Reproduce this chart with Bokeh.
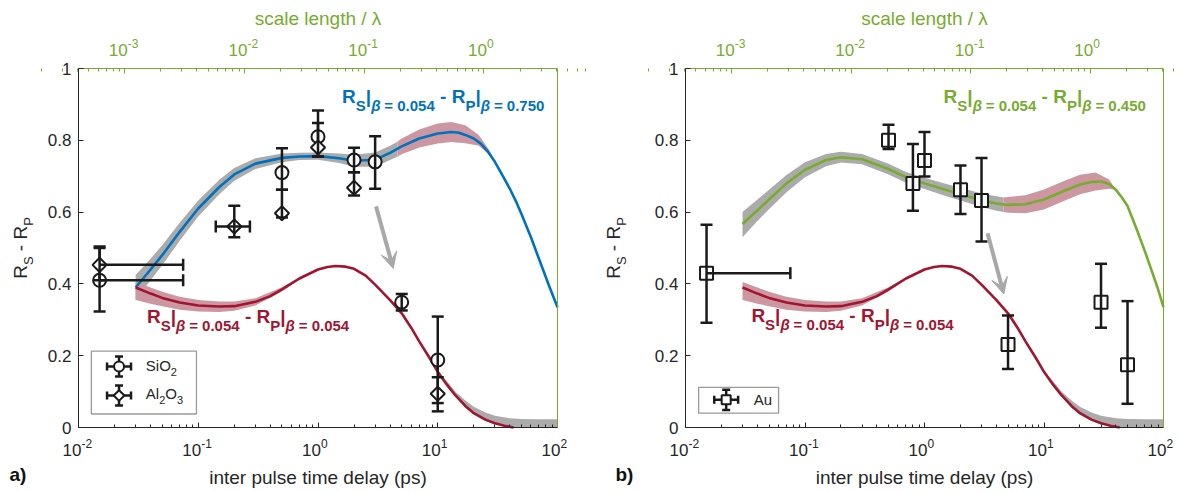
import math
from bokeh.plotting import figure
from bokeh.models import (Range1d, LogScale, LogAxis, LinearAxis, FixedTicker,
                          CustomJSTickFormatter, Label, LabelSet, ColumnDataSource, Arrow, VeeHead)
from bokeh.layouts import row
from bokeh.embed import file_html
from bokeh.resources import INLINE
from bokeh.core.properties import value

# ---------------------------------------------------------------- data
# model curves: inter pulse delay (ps) -> R_S - R_P
red_t = [0.03, 0.04, 0.05, 0.07, 0.1, 0.15, 0.2, 0.3, 0.4, 0.5, 0.7, 1.0, 1.2, 1.4, 1.7, 2.0,
         2.5, 3.0, 4.0, 5.0, 6.0, 7.0, 8.5, 10.0, 12.0, 14.0, 17.0, 20.0, 25.0, 30.0, 36.0, 43.0]
red_r = [0.39, 0.373, 0.361, 0.348, 0.34, 0.337, 0.338, 0.35, 0.366, 0.385, 0.415, 0.44, 0.447,
         0.45, 0.448, 0.442, 0.423, 0.398, 0.355, 0.318, 0.278, 0.24, 0.195, 0.155, 0.118, 0.09,
         0.06, 0.04, 0.022, 0.012, 0.005, 0.0]

blue_t = [0.03, 0.04, 0.05, 0.07, 0.1, 0.15, 0.2, 0.3, 0.5, 0.7, 1.0, 1.5, 2.0, 3.0, 4.0, 5.0,
          7.0, 10.0, 13.0, 15.0, 17.0, 20.0, 23.0, 26.0, 30.0, 35.0, 40.0, 45.0, 50.0, 60.0,
          70.0, 85.0, 100.0]
blue_r = [0.39, 0.44, 0.48, 0.545, 0.61, 0.67, 0.705, 0.735, 0.751, 0.755, 0.756, 0.75, 0.743,
          0.746, 0.765, 0.783, 0.805, 0.819, 0.823, 0.821, 0.815, 0.805, 0.79, 0.77, 0.74, 0.70,
          0.665, 0.63, 0.595, 0.53, 0.47, 0.395, 0.335]

green_t = [0.03, 0.04, 0.05, 0.07, 0.1, 0.15, 0.2, 0.3, 0.5, 0.7, 1.0, 1.5, 2.0, 3.0, 4.0, 5.0,
           7.0, 10.0, 15.0, 20.0, 25.0, 30.0, 35.0, 40.0, 45.0, 50.0, 60.0, 70.0, 80.0, 90.0, 100.0]
green_r = [0.567, 0.605, 0.635, 0.68, 0.718, 0.745, 0.753, 0.747, 0.72, 0.697, 0.68, 0.662,
           0.65, 0.633, 0.624, 0.62, 0.622, 0.635, 0.66, 0.677, 0.684, 0.685, 0.678, 0.662,
           0.64, 0.617, 0.55, 0.49, 0.435, 0.385, 0.335]

# uncertainty bands (gray / pink shading)
blue_gray_t = [0.03, 0.04, 0.05, 0.07, 0.1, 0.15, 0.2, 0.3, 0.5, 0.7, 1.0, 1.5, 2.0, 3.0, 4.0, 4.6]
blue_gray_lo = [0.355, 0.41, 0.452, 0.52, 0.588, 0.65, 0.687, 0.72, 0.739, 0.745, 0.746,
                0.737, 0.726, 0.726, 0.745, 0.754]
blue_gray_hi = [0.425, 0.47, 0.508, 0.57, 0.632, 0.69, 0.723, 0.75, 0.763, 0.765, 0.766,
                0.763, 0.76, 0.766, 0.785, 0.796]
blue_pink_t = [4.6, 5.0, 7.0, 10.0, 13.0, 17.0, 22.0, 27.0, 30.0]
blue_pink_lo = [0.754, 0.761, 0.78, 0.791, 0.795, 0.792, 0.785, 0.76, 0.74]
blue_pink_hi = [0.796, 0.805, 0.83, 0.847, 0.851, 0.842, 0.815, 0.772, 0.74]

green_gray_t = [0.03, 0.04, 0.05, 0.07, 0.1, 0.15, 0.2, 0.3, 0.5, 0.7, 1.0, 1.5, 2.0, 3.0, 4.0, 4.6]
green_gray_lo = [0.53, 0.575, 0.608, 0.655, 0.697, 0.728, 0.738, 0.733, 0.705, 0.682, 0.664,
                 0.645, 0.632, 0.614, 0.604, 0.6]
green_gray_hi = [0.6, 0.635, 0.662, 0.703, 0.739, 0.762, 0.768, 0.762, 0.735, 0.712, 0.696,
                 0.679, 0.668, 0.652, 0.644, 0.641]
green_pink_t = [4.6, 5.0, 7.0, 10.0, 15.0, 20.0, 27.0, 35.0, 40.0]
green_pink_lo = [0.6, 0.598, 0.597, 0.607, 0.632, 0.65, 0.66, 0.665, 0.662]
green_pink_hi = [0.641, 0.642, 0.647, 0.663, 0.688, 0.704, 0.71, 0.691, 0.662]

red_pink_t = [0.03, 0.04, 0.05, 0.07, 0.1, 0.15, 0.2, 0.3, 0.5, 0.7, 0.85]
red_pink_lo = [0.355, 0.345, 0.338, 0.328, 0.323, 0.322, 0.325, 0.34, 0.379, 0.412, 0.43]
red_pink_hi = [0.405, 0.39, 0.378, 0.364, 0.355, 0.351, 0.351, 0.36, 0.391, 0.418, 0.43]
red_gray_t = [10.0, 12.0, 14.0, 17.0, 20.0, 25.0, 30.0, 40.0, 50.0, 70.0, 100.0]
red_gray_lo = [0.155, 0.118, 0.088, 0.055, 0.036, 0.018, 0.01, 0.003, 0.0, 0.0, 0.0]
red_gray_hi = [0.155, 0.128, 0.1, 0.075, 0.058, 0.042, 0.033, 0.026, 0.024, 0.023, 0.023]

# measurements (delay ps, value, lower, upper)
sio2_t = [0.015, 0.5, 1.0, 2.0, 3.0, 5.0, 10.0]
sio2_r = [0.41, 0.71, 0.81, 0.745, 0.74, 0.349, 0.188]
sio2_lo = [0.323, 0.662, 0.755, 0.711, 0.665, 0.326, 0.068]
sio2_hi = [0.504, 0.778, 0.883, 0.779, 0.811, 0.372, 0.309]
sio2_xerr_t = [0.015]
sio2_xerr_lo = [None]
sio2_xerr_hi = [0.0748]

al2o3_t = [0.015, 0.2, 0.5, 1.0, 2.0, 10.0]
al2o3_r = [0.453, 0.56, 0.597, 0.78, 0.668, 0.094]
al2o3_lo = [0.41, 0.53, 0.585, 0.755, 0.646, 0.045]
al2o3_hi = [0.50, 0.618, 0.662, 0.848, 0.711, 0.14]
al2o3_xerr_t = [0.015, 0.2]
al2o3_xerr_lo = [None, 0.14]
al2o3_xerr_hi = [0.0748, 0.27]

au_t = [0.015, 0.5, 0.8, 1.0, 2.0, 3.0, 5.0, 30.0, 50.0]
au_r = [0.43, 0.80, 0.68, 0.744, 0.662, 0.632, 0.231, 0.349, 0.175]
au_lo = [0.292, 0.776, 0.604, 0.699, 0.595, 0.518, 0.163, 0.278, 0.066]
au_hi = [0.565, 0.843, 0.790, 0.823, 0.730, 0.751, 0.312, 0.456, 0.352]
au_xerr_t = [0.015]
au_xerr_lo = [None]
au_xerr_hi = [0.0754]

bottom_ticks = [0.01, 0.1, 1.0, 10.0, 100.0]
bottom_exp = ["-2", "-1", "0", "1", "2"]
top_ticks = [0.001, 0.01, 0.1, 1.0]
top_exp = ["-3", "-2", "-1", "0"]
y_ticks = [0, 0.2, 0.4, 0.6, 0.8, 1.0]
SCALE_PER_PS = 0.0411   # scale length / lambda per ps of delay

# ---------------------------------------------------------------- style
FONT = "Liberation Sans"
AX = "#262626"
GREEN = "#77AC30"
BLUE = "#0072BD"
RED = "#A2142F"
GRAYB = "#ABABAB"
PINKB = "#CC97A1"
ARROWC = "#A8A8A8"
EB = "#1A1A1A"
K = 0.47   # baseline correction for single labels (fraction of font size)

W_REG = {'R': .722, 'S': .667, 'P': .667, ' ': .278, '-': .333, 'i': .222, 'O': .778,
         'A': .667, 'l': .222, '2': .556, '3': .556, 'u': .556}
W_BOLD = {'R': .722, 'S': .667, 'P': .667, '|': .28, ' ': .278, '=': .584, '.': .278,
          '-': .333, 'β': .6}


def advance(text, size, bold):
    tbl = W_BOLD if bold else W_REG
    return sum(tbl.get(c, .556) for c in text) * size


def label(p, x, y, text, size, color, style="normal", align="left", xo=0.0, yo=0.0, **kw):
    p.add_layout(Label(x=x, y=y, x_offset=xo, y_offset=yo + K * size, text=text,
                       text_font=FONT, text_font_size=f"{size}px", text_font_style=style,
                       text_color=color, text_align=align, text_baseline="alphabetic", **kw))


def rich(p, x, y, parts, color, vertical=False, x_off=0.0, y_off=0.0):
    pos = 0.0
    for txt, size, style, shift in parts:
        if txt.strip():
            common = dict(x=x, y=y, text=txt, text_font=FONT, text_font_size=f"{size}px",
                          text_font_style=style, text_color=color, text_align="left",
                          text_baseline="alphabetic")
            if vertical:
                lab = Label(x_offset=x_off + shift - K * size, y_offset=y_off + pos,
                            angle=math.pi / 2, **common)
            else:
                lab = Label(x_offset=x_off + pos, y_offset=y_off - shift + K * size, **common)
            p.add_layout(lab)
        pos += advance(txt, size, "bold" in style)
    return pos


def curve_label(p, x, y, beta_p, color):
    B, s = 19, 15
    parts = [("R", B, "bold", 0), ("S", s, "bold", 7), ("|", B, "bold", 0),
             ("β", s, "bold italic", 7), (" ", s, "bold", 7), ("= 0.054", s, "bold", 7),
             (" ", B, "bold", 0), ("-", B, "bold", 0), (" ", B, "bold", 0),
             ("R", B, "bold", 0), ("P", s, "bold", 7), ("|", B, "bold", 0),
             ("β", s, "bold italic", 7), (" ", s, "bold", 7), ("= " + beta_p, s, "bold", 7)]
    rich(p, x, y, parts, color)


def error_points(p, t, r, lo, hi, xt, xlo, xhi, marker, size, angle=0.0):
    p.scatter(t, r, marker=marker, size=size, angle=angle, fill_color="white",
              line_color=EB, line_width=2)
    p.segment(x0=t, x1=t, y0=lo, y1=hi, line_color=EB, line_width=2.5)
    p.scatter(t + t, lo + hi, marker="dash", size=12, line_color=EB, line_width=2.5)
    rx = [r[t.index(v)] for v in xt]
    x0 = [a if a is not None else v for a, v in zip(xlo, xt)]
    p.segment(x0=x0, x1=xhi, y0=rx, y1=rx, line_color=EB, line_width=2.5)
    cx = list(xhi) + [a for a in xlo if a is not None]
    cy = list(rx) + [ry for a, ry in zip(xlo, rx) if a is not None]
    p.scatter(cx, cy, marker="dash", angle=math.pi / 2, size=12, line_color=EB, line_width=2.5)


def legend_icon(p, t, r, marker, size, angle=0.0):
    hx = 10 ** (12 / 120.0)
    vy = 0.028
    p.segment(x0=[t / hx], x1=[t * hx], y0=[r], y1=[r], line_color=EB, line_width=2.5)
    p.segment(x0=[t], x1=[t], y0=[r - vy], y1=[r + vy], line_color=EB, line_width=2.5)
    p.scatter([t / hx, t * hx], [r, r], marker="dash", angle=math.pi / 2, size=8,
              line_color=EB, line_width=2.5)
    p.scatter([t, t], [r - vy, r + vy], marker="dash", size=8, line_color=EB, line_width=2.5)
    p.scatter([t], [r], marker=marker, size=size, angle=angle, fill_color="white",
              line_color=EB, line_width=2)


W, H = 590, 492
BOX_TOP, BOX_BOTTOM = 68, 427      # pixel rows of the axes box (y = 1 and y = 0)


def base_fig(box_left, box_right, letter, ylab_off, letter_off):
    dec = (box_right - box_left) / 4.0
    lx0 = -2 - box_left / dec
    lx1 = -2 + (W - box_left) / dec
    unit = float(BOX_BOTTOM - BOX_TOP)
    y0 = -(H - BOX_BOTTOM) / unit
    y1 = 1 + BOX_TOP / unit
    p = figure(width=W, height=H, x_axis_type="log", x_range=Range1d(10 ** lx0, 10 ** lx1),
               y_range=Range1d(y0, y1), output_backend="svg", toolbar_location=None,
               min_border=0)
    p.grid.visible = False
    p.outline_line_color = None
    p.background_fill_color = "white"
    p.border_fill_color = "white"

    bx = p.below[0]
    bx.fixed_location = 0
    bx.bounds = (0.01, 100)
    bx.ticker = FixedTicker(ticks=bottom_ticks,
                            minor_ticks=[m * 10.0 ** e for e in range(-2, 2) for m in range(2, 10)])
    bx.formatter = CustomJSTickFormatter(code="return '';")
    bx.major_tick_in, bx.major_tick_out = 5, 0
    bx.minor_tick_in, bx.minor_tick_out = 3, 0
    bx.axis_line_color = AX
    bx.major_tick_line_color = AX
    bx.minor_tick_line_color = AX

    ly = p.left[0]
    ly.fixed_location = 0.01
    ly.bounds = (0, 1)
    ly.ticker = FixedTicker(ticks=y_ticks)
    ly.formatter = CustomJSTickFormatter(
        code="return tick < 1e-9 ? '0' : (Math.abs(tick - 1) < 1e-9 ? '1' : tick.toFixed(1));")
    ly.major_tick_in, ly.major_tick_out = 5, 0
    ly.minor_tick_line_color = None
    ly.axis_line_color = AX
    ly.major_tick_line_color = AX
    ly.major_label_text_font = FONT
    ly.major_label_text_font_size = "17px"
    ly.major_label_text_color = AX
    ly.major_label_standoff = 7

    p.extra_x_ranges = {"top": Range1d(10 ** lx0 * SCALE_PER_PS, 10 ** lx1 * SCALE_PER_PS)}
    p.extra_x_scales = {"top": LogScale()}
    tx = LogAxis(x_range_name="top", fixed_location=1,
                 bounds=(0.01 * SCALE_PER_PS, 100 * SCALE_PER_PS),
                 ticker=FixedTicker(ticks=top_ticks,
                                    minor_ticks=[m * 10.0 ** e for e in range(-4, 1) for m in range(2, 10)]),
                 formatter=CustomJSTickFormatter(code="return '';"))
    tx.major_tick_in, tx.major_tick_out = 5, 0
    tx.minor_tick_in, tx.minor_tick_out = 3, 0
    tx.axis_line_color = GREEN
    tx.major_tick_line_color = GREEN
    tx.minor_tick_line_color = GREEN
    p.add_layout(tx, "above")

    ry = LinearAxis(fixed_location=100, bounds=(0, 1), ticker=FixedTicker(ticks=[]),
                    formatter=CustomJSTickFormatter(code="return '';"))
    ry.axis_line_color = GREEN
    ry.major_tick_line_color = None
    ry.minor_tick_line_color = None
    p.add_layout(ry, "right")

    # tick labels with superscript exponents
    bsrc = ColumnDataSource(dict(x=bottom_ticks, y=[0] * len(bottom_ticks),
                                 base=["10"] * len(bottom_ticks), exp=bottom_exp))
    p.add_layout(LabelSet(x="x", y="y", text="base", source=bsrc, text_align="right",
                          x_offset=3, y_offset=-28, text_font=value(FONT),
                          text_font_size="17px", text_color=AX, text_baseline="alphabetic"))
    p.add_layout(LabelSet(x="x", y="y", text="exp", source=bsrc, text_align="left",
                          x_offset=3, y_offset=-20, text_font=value(FONT),
                          text_font_size="12px", text_color=AX, text_baseline="alphabetic"))
    tsrc = ColumnDataSource(dict(x=top_ticks, y=[1] * len(top_ticks),
                                 base=["10"] * len(top_ticks), exp=top_exp))
    p.add_layout(LabelSet(x="x", y="y", text="base", source=tsrc, x_range_name="top",
                          text_align="right", x_offset=3, y_offset=13,
                          text_font=value(FONT), text_font_size="17px", text_color=GREEN,
                          text_baseline="alphabetic"))
    p.add_layout(LabelSet(x="x", y="y", text="exp", source=tsrc, x_range_name="top",
                          text_align="left", x_offset=3, y_offset=21,
                          text_font=value(FONT), text_font_size="12px", text_color=GREEN,
                          text_baseline="alphabetic"))

    # axis titles
    label(p, 1, 0, "inter pulse time delay (ps)", 19, AX, align="center", yo=-59)
    label(p, 1, 1, "scale length / λ", 19, GREEN, align="center", yo=41)
    yparts = [("R", 19, "normal", 0), ("S", 13, "normal", 5), (" ", 19, "normal", 0),
              ("-", 19, "normal", 0), (" ", 19, "normal", 0), ("R", 19, "normal", 0),
              ("P", 13, "normal", 5)]
    total = sum(advance(t_, s_, False) for t_, s_, _, _ in yparts)
    rich(p, 0.01, 0.5, yparts, AX, vertical=True, x_off=ylab_off, y_off=-total / 2)
    label(p, 0.01, 0, letter, 19, "#111111", style="bold", xo=letter_off, yo=-56)
    return p


# ---------------------------------------------------------------- panel a
pa = base_fig(78, 557, "a)", -49, -69)
pa.varea(x=blue_gray_t, y1=blue_gray_lo, y2=blue_gray_hi, fill_color=GRAYB)
pa.varea(x=blue_pink_t, y1=blue_pink_lo, y2=blue_pink_hi, fill_color=PINKB)
pa.varea(x=red_pink_t, y1=red_pink_lo, y2=red_pink_hi, fill_color=PINKB)
pa.varea(x=red_gray_t, y1=red_gray_lo, y2=red_gray_hi, fill_color=GRAYB)
pa.line(blue_t, blue_r, line_color=BLUE, line_width=2.6)
pa.line(red_t, red_r, line_color=RED, line_width=2.6)
pa.add_layout(Arrow(end=VeeHead(size=16, fill_color=ARROWC, line_color=ARROWC, line_width=1),
                    x_start=3.05, y_start=0.616, x_end=4.25, y_end=0.443,
                    line_color=ARROWC, line_width=4))
error_points(pa, sio2_t, sio2_r, sio2_lo, sio2_hi, sio2_xerr_t, sio2_xerr_lo, sio2_xerr_hi,
             "circle", 13)
error_points(pa, al2o3_t, al2o3_r, al2o3_lo, al2o3_hi, al2o3_xerr_t, al2o3_xerr_lo,
             al2o3_xerr_hi, "square", 10, angle=math.pi / 4)
curve_label(pa, 1.59, 0.897, "0.750", BLUE)
curve_label(pa, 0.0373, 0.284, "0.054", RED)
# legend
pa.quad(left=[0.0128], right=[0.0966], bottom=[0.0376], top=[0.2125], fill_color="white",
        line_color="#9A9A9A", line_width=1.3)
legend_icon(pa, 0.0218, 0.170, "circle", 10)
legend_icon(pa, 0.0218, 0.089, "square", 7.5, angle=math.pi / 4)
rich(pa, 0.0365, 0.154, [("SiO", 15, "normal", 0), ("2", 11, "normal", 5)], AX)
rich(pa, 0.0365, 0.075, [("Al", 15, "normal", 0), ("2", 11, "normal", 5),
                         ("O", 15, "normal", 0), ("3", 11, "normal", 5)], AX)

# ---------------------------------------------------------------- panel b
pb = base_fig(95, 573, "b)", -63, -70)
pb.varea(x=green_gray_t, y1=green_gray_lo, y2=green_gray_hi, fill_color=GRAYB)
pb.varea(x=green_pink_t, y1=green_pink_lo, y2=green_pink_hi, fill_color=PINKB)
pb.varea(x=red_pink_t, y1=red_pink_lo, y2=red_pink_hi, fill_color=PINKB)
pb.varea(x=red_gray_t, y1=red_gray_lo, y2=red_gray_hi, fill_color=GRAYB)
pb.line(green_t, green_r, line_color=GREEN, line_width=2.6)
pb.line(red_t, red_r, line_color=RED, line_width=2.6)
pb.add_layout(Arrow(end=VeeHead(size=16, fill_color=ARROWC, line_color=ARROWC, line_width=1),
                    x_start=3.37, y_start=0.541, x_end=4.61, y_end=0.372,
                    line_color=ARROWC, line_width=4))
error_points(pb, au_t, au_r, au_lo, au_hi, au_xerr_t, au_xerr_lo, au_xerr_hi, "square", 13)
curve_label(pb, 1.445, 0.897, "0.450", GREEN)
curve_label(pb, 0.0356, 0.287, "0.054", RED)
pb.quad(left=[0.01288], right=[0.0601], bottom=[0.040], top=[0.112], fill_color="white",
        line_color="#9A9A9A", line_width=1.3)
legend_icon(pb, 0.0219, 0.077, "square", 9)
rich(pb, 0.0372, 0.058, [("Au", 15, "normal", 0)], AX)

layout = row(pa, pb)
open("out.html", "w").write(file_html(layout, INLINE))
